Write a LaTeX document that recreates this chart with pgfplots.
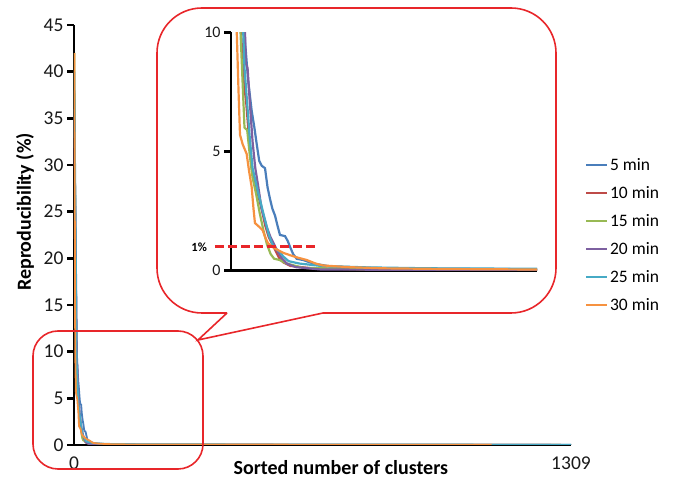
\documentclass[border=0pt]{standalone}
\usepackage{fontspec}
\setmainfont{Carlito}
\usepackage{pgfplots}
\usepackage{pgfplotstable}
\pgfplotsset{compat=1.18}
\definecolor{cA}{HTML}{4A7EBB}
\definecolor{cB}{HTML}{BE4B48}
\definecolor{cC}{HTML}{98B954}
\definecolor{cD}{HTML}{7D60A0}
\definecolor{cE}{HTML}{46AAC5}
\definecolor{cF}{HTML}{F69240}
\definecolor{callred}{HTML}{E8262A}
\pgfplotstableread{
x y
1 36
6.5 12
7.4 10
9.5 8.0
11.5 6.7
13 6.0
14.3 5.3
15.7 4.6
17.1 4.4
18.9 4.3
20.3 3.5
21.7 3.0
23 2.6
24.5 2.3
25.8 1.9
27.2 1.5
30 1.45
31.5 1.25
32.8 1.0
34.5 0.7
36.5 0.5
40 0.45
45.8 0.3
55 0.18
85 0.1
170 0.06
400 0.04
1309 0.02
}\tA
\pgfplotstableread{
x y
1 38
5.6 10
7 8.0
8.5 7.0
10 5.6
11.5 4.3
13 3.7
15 3.2
17 2.6
19 1.9
21 1.4
23 1.1
25 0.8
27 0.5
29 0.35
33 0.2
45 0.1
80 0.05
170 0.03
1309 0.01
}\tB
\pgfplotstableread{
x y
1 42
5.3 10
6.5 7.8
7.5 6.0
9 5.9
10.5 4.8
12 3.9
14 3.2
16 2.4
18 1.7
20 1.1
22 0.7
24 0.5
27 0.45
31 0.3
40 0.12
80 0.05
170 0.03
1309 0.01
}\tC
\pgfplotstableread{
x y
1 35
7.8 10
8.2 8.7
9.2 8.5
10.5 7.0
12 5.4
13.5 4.3
15 3.6
17 2.6
18.5 2.2
20 1.8
22 1.4
24 1.1
26 0.8
28 0.55
31 0.3
36 0.15
50 0.05
170 0.02
1309 0.01
}\tD
\pgfplotstableread{
x y
1 40
6.8 10
7.5 8.5
9 7.0
10.5 5.5
12 4.3
13.5 3.8
15 3.3
17 2.7
19 2.1
21 1.5
23 1.1
25 0.9
27 0.8
29 0.6
32 0.4
38 0.3
50 0.2
75 0.14
110 0.1
170 0.08
600 0.05
1309 0.03
}\tE
\pgfplotstableread{
x y
1 42
3.2 10
4.2 7.5
5 5.7
6.5 5.3
8.7 4.9
10 4.2
11.5 3.5
12.5 2.6
13.3 2.0
15.5 1.85
17.6 1.7
19 1.4
20.6 1.15
23 1.0
25.2 0.9
29 0.75
32.8 0.65
37 0.55
42 0.45
47 0.3
51 0.22
65 0.15
84.5 0.1
120 0.07
170 0.05
1100 0.02
}\tF
\begin{document}
\begin{tikzpicture}
\useasboundingbox (0,0) rectangle (673pt,490pt);
\begin{axis}[
  at={(74pt,45pt)}, anchor=south west,
  scale only axis, width=497pt, height=420pt,
  xmin=0, xmax=1309, ymin=0, ymax=45,
  axis x line*=bottom, axis y line*=left,
  x axis line style={black, line width=1.5pt},
  y axis line style={black, line width=2.5pt},
  xtick={0,1309}, xticklabels={0,1309},
  x tick style={draw=none},
  ytick={0,5,...,45},
  y tick style={black, line width=2.5pt},
  tick align=outside, major tick length=7pt,
  /pgf/number format/assume math mode=true,
  ticklabel style={font=\fontsize{19.5}{20}\selectfont, text=black!90},
  xticklabel style={yshift=-1pt},
  xlabel={\textbf{Sorted number of clusters}},
  ylabel={\textbf{Reproducibility (\%)}},
  label style={font=\fontsize{20}{20}\selectfont},
  xlabel style={at={(axis description cs:0.537,-0.0714)}, anchor=base},
  ylabel style={at={(axis description cs:-0.0986,0.555)}, anchor=center},
  legend style={at={(1.028,0.5)}, anchor=west, draw=none, fill=none,
    font=\fontsize{17.5}{17.5}\selectfont, row sep=10.5pt, inner sep=0pt},
  legend cell align=left,
  legend image code/.code={\draw[#1, line width=2pt] (0pt,0pt) -- (21pt,0pt);},
  every axis plot/.append style={line width=1.8pt},
]
\addplot[cA] table {\tA}; \addlegendentry{5 min}
\addplot[cB] table {\tB}; \addlegendentry{10 min}
\addplot[cC] table {\tC}; \addlegendentry{15 min}
\addplot[cD] table {\tD}; \addlegendentry{20 min}
\addplot[cE] table {\tE}; \addlegendentry{25 min}
\addplot[cF] table {\tF}; \addlegendentry{30 min}
\end{axis}
% callout and zoom box
\draw[callred, line width=1.6pt, rounded corners=45pt] (227pt,177pt) -- (157pt,177pt) -- (157pt,482pt) -- (556pt,482pt) -- (556pt,177pt) -- (323pt,177pt);
\draw[callred, line width=1.6pt, line join=miter] (227pt,177pt) -- (198pt,150pt) -- (323pt,177pt);
\draw[callred, line width=1.6pt, rounded corners=25pt] (33pt,21pt) rectangle (203pt,159pt);
\begin{axis}[
  at={(231pt,219.3pt)}, anchor=south west,
  scale only axis, width=306pt, height=238.4pt,
  xmin=0, xmax=170, ymin=0, ymax=10,
  clip mode=individual,
  axis x line*=bottom, axis y line*=left,
  x axis line style={black, line width=2.5pt},
  y axis line style={black, line width=2.5pt},
  xtick=\empty,
  ytick={0,5,10},
  y tick style={black, line width=2.5pt},
  tick align=outside, major tick length=7pt,
  /pgf/number format/assume math mode=true,
  ticklabel style={font=\fontsize{16}{16}\selectfont, text=black!90},
  every axis plot/.append style={line width=2.2pt},
]
\addplot[cA] table {\tA};
\addplot[cB] table {\tB};
\addplot[cC] table {\tC};
\addplot[cD] table {\tD};
\addplot[cE] table {\tE};
\addplot[cF] table {\tF};
\draw[callred, line width=3pt, dash pattern=on 9pt off 4pt] (axis cs:-8.9,1) -- (axis cs:47.6,1);
\node[anchor=east, font=\bfseries\fontsize{12.5}{12.5}\selectfont, inner sep=0pt] at (axis cs:-13.3,1) {1\%};
\end{axis}
\end{tikzpicture}
\end{document}
